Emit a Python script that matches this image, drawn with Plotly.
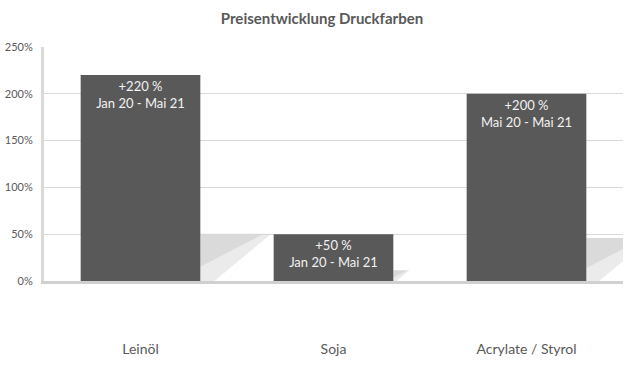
import plotly.graph_objects as go

categories = ["Leinöl", "Soja", "Acrylate / Styrol"]
values = [2.20, 0.50, 2.00]
labels = ["+220 %<br>Jan 20 - Mai 21", "+50 %<br>Jan 20 - Mai 21", "+200 %<br>Mai 20 - Mai 21"]
tick_vals = [0, 0.5, 1.0, 1.5, 2.0, 2.5]

FONT = "Lato, 'Open Sans', sans-serif"
BAR_W = 0.62

fig = go.Figure()

# soft perspective shadows (decoration derived from bar values)
for i, v in enumerate(values):
    sh = 0.23 * v
    d = 0.727 * sh
    x1 = i + BAR_W / 2
    fig.add_shape(type="path", xref="x", yref="y", layer="below",
                  path=f"M {x1},0 L {x1},{sh} L {x1 + d},{sh} L {x1 + d * 0.2},0 Z",
                  fillcolor="rgba(0,0,0,0.08)", line_width=0)
    fig.add_shape(type="path", xref="x", yref="y", layer="below",
                  path=f"M {x1},{sh * 0.3} L {x1},{sh} L {x1 + d * 0.9},{sh} Z",
                  fillcolor="rgba(0,0,0,0.07)", line_width=0)

fig.add_trace(go.Bar(
    x=categories, y=values, width=BAR_W,
    marker=dict(color="#595959", line_width=0),
    text=labels, textposition="inside", insidetextanchor="end",
    textangle=0,
    textfont=dict(family=FONT, size=13, color="#f2f2f2"),
    hoverinfo="skip",
))

fig.update_layout(
    width=644, height=367,
    margin=dict(l=44, r=21, t=47, b=86),
    paper_bgcolor="white", plot_bgcolor="white",
    showlegend=False,
    bargap=0.38,
    title=dict(text="<b>Preisentwicklung Druckfarben</b>", x=0.5, xanchor="center",
               y=0.95, yanchor="middle",
               font=dict(family=FONT, size=15, color="#595959")),
    font=dict(family=FONT, color="#595959"),
)
fig.update_yaxes(range=[0, 2.5], tickvals=tick_vals, tickformat=".0%",
                 showgrid=True, gridcolor="#d9d9d9", gridwidth=1,
                 showline=True, linecolor="#d9d9d9", linewidth=3,
                 zeroline=False, ticks="", ticklabelstandoff=6, automargin=False,
                 tickfont=dict(family=FONT, size=11, color="#595959"))
fig.update_xaxes(range=[-0.5, len(categories) - 0.5], autorange=False,
                 showline=True, linecolor="#d0d0d0", linewidth=3,
                 showgrid=False, ticks="", ticklabelstandoff=53, automargin=False,
                 tickfont=dict(family=FONT, size=14, color="#595959"))

fig.write_html("out.html", config={"displayModeBar": False},
               post_script="document.body.style.margin='0';")
